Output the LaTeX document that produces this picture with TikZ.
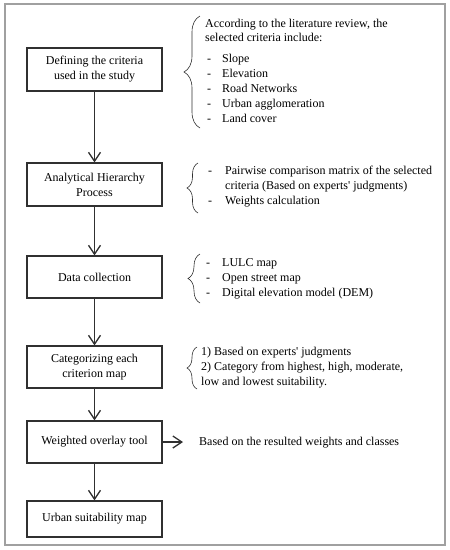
\documentclass[tikz,border=0pt]{standalone}
\usepackage{fontspec}
\setmainfont{Liberation Serif}
\newfontfamily\tnr{Liberation Serif}
\usetikzlibrary{arrows.meta,decorations.pathreplacing}
\definecolor{framegray}{HTML}{A0A0A0}
\definecolor{boxgray}{HTML}{303030}
\newcommand{\dsh}{\makebox[15pt][l]{-}}
\begin{document}
\begin{tikzpicture}[x=1pt,y=-1pt,
  every node/.style={font=\tnr\fontsize{12}{15}\selectfont},
  stepbox/.style={draw=boxgray,line width=1.1pt,minimum width=135pt,inner sep=0pt,align=center},
  arr/.style={draw=boxgray,line width=1.3pt,-{Straight Barb[length=9pt,width=12pt,line width=1.3pt]}},
  txt/.style={anchor=base west,inner sep=0pt},
  brc/.style={draw=boxgray,line width=0.6pt,decorate},
]
\useasboundingbox (0,0) rectangle (450,550);
\draw[framegray,line width=1.2pt] (5,4) rectangle (445,545);

\node[stepbox,minimum height=43pt] (b1) at (94.5,69.5) {Defining the criteria\\used in the study};
\node[stepbox,minimum height=43pt] (b2) at (94.5,184.5) {Analytical Hierarchy\\Process};
\node[stepbox,minimum height=42pt] (b3) at (94.5,277) {Data collection};
\node[stepbox,minimum height=42pt] (b4) at (94.5,367) {Categorizing each\\criterion map};
\node[stepbox,minimum height=42pt] (b5) at (94.5,442) {Weighted overlay tool};
\node[stepbox,minimum height=36pt] (b6) at (94.5,519) {Urban suitability map};

\draw[arr] (b1) -- (b2);
\draw[arr] (b2) -- (b3);
\draw[arr] (b3) -- (b4);
\draw[arr] (b4) -- (b5);
\draw[arr] (b5) -- (b6);

% block 1
\draw[brc,decoration={brace,amplitude=16pt}] (200,128) -- (200,16);
\node[txt] (t1a) at (205,27.5) {\begin{tabular}[t]{@{}l@{}}According to the literature review, the\\[-1pt] selected criteria include:\end{tabular}};
\node[txt] (t1b) at (207,62.5) {\begin{tabular}[t]{@{}l@{}l@{}}\dsh & Slope\\ \dsh & Elevation\\ \dsh & Road Networks\\ \dsh & Urban agglomeration\\ \dsh & Land cover\end{tabular}};

% block 2
\draw[brc,decoration={brace,amplitude=11pt}] (198,213) -- (198,163);
\node[txt] (t2) at (208,174) {\begin{tabular}[t]{@{}l@{}l@{}}\makebox[17pt][l]{-} & Pairwise comparison matrix of the selected\\ & criteria (Based on experts' judgments)\\ \makebox[17pt][l]{-} & Weights calculation\end{tabular}};

% block 3
\draw[brc,decoration={brace,amplitude=12pt}] (200,303) -- (200,254);
\node[txt] (t3) at (206,266) {\begin{tabular}[t]{@{}l@{}l@{}}\makebox[16pt][l]{-} & LULC map\\ \makebox[16pt][l]{-} & Open street map\\ \makebox[16pt][l]{-} & Digital elevation model (DEM)\end{tabular}};

% block 4
\draw[brc,decoration={brace,amplitude=10pt}] (197,389) -- (197,347);
\node[txt] (t4) at (201,355.5) {\begin{tabular}[t]{@{}l@{}}1) Based on experts' judgments\\ 2) Category from highest, high, moderate,\\ low and lowest suitability.\end{tabular}};

% horizontal arrow
\coordinate (h5) at (183,442);
\draw[arr] (b5.east) -- (h5);
\node[txt] (t5) at (199,445.5) {Based on the resulted weights and classes};
\end{tikzpicture}
\end{document}
